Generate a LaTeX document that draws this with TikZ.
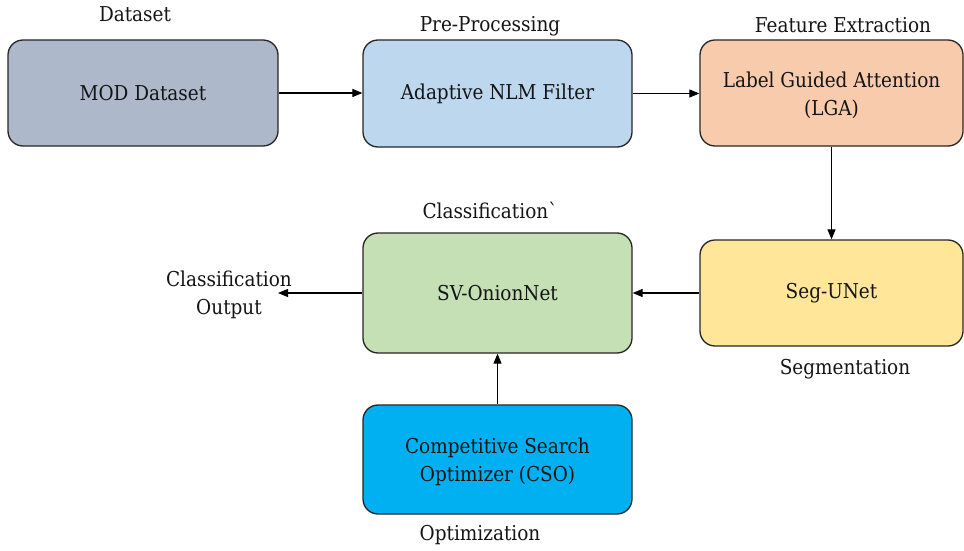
\documentclass[tikz,border=0pt]{standalone}
\usepackage{fontspec}
\setmainfont{DejaVu Serif Condensed}
\usetikzlibrary{arrows.meta}
\definecolor{cDataset}{HTML}{ADB9CA}
\definecolor{cPre}{HTML}{BDD7EE}
\definecolor{cFeat}{HTML}{F8CBAD}
\definecolor{cSeg}{HTML}{FFE699}
\definecolor{cClass}{HTML}{C5E0B4}
\definecolor{cOpt}{HTML}{00B0F0}
\definecolor{cEdge}{HTML}{262626}
\definecolor{cText}{HTML}{141414}
\newcommand{\lowstrut}{\rule{0pt}{20pt}}
\tikzset{
  block/.style={draw=cEdge, line width=1.3pt, rounded corners=15pt, inner sep=0pt,
    align=center, text=cText, font=\fontsize{20.5}{28}\selectfont},
  caption/.style={inner sep=0pt, align=center, text=cText, font=\fontsize{20.5}{28}\selectfont},
  flow/.style={draw=black, line width=1.1pt, -{Triangle[length=10pt,width=8pt]}}
}
\begin{document}
\begin{tikzpicture}[x=1pt, y=-1pt]
\useasboundingbox (0,0) rectangle (964,551);

% processing blocks
\node[block, fill=cDataset, minimum width=270pt, minimum height=106pt] (mod) at (143,93) {MOD Dataset};
\node[block, fill=cPre, minimum width=269pt, minimum height=107pt] (nlm) at (497.5,93.5) {Adaptive NLM Filter};
\node[block, fill=cFeat, minimum width=263pt, minimum height=106pt] (lga) at (831.5,93) {\lowstrut Label Guided Attention\\(LGA)};
\node[block, fill=cSeg, minimum width=263pt, minimum height=106pt] (seg) at (831.5,293) {Seg-UNet};
\node[block, fill=cClass, minimum width=269pt, minimum height=120pt] (sv) at (497.5,293) {SV-OnionNet};
\node[block, fill=cOpt, minimum width=269pt, minimum height=109pt] (cso) at (497.5,459.5) {\lowstrut Competitive Search\\Optimizer (CSO)};

% stage captions
\node[caption] (capData) at (135,14) {Dataset};
\node[caption] (capPre) at (490,26) {Pre-Processing};
\node[caption] (capFeat) at (843,25) {Feature Extraction};
\node[caption] (capClass) at (490,210) {Classification\textasciigrave};
\node[caption] (capSeg) at (845,369) {Segmentation};
\node[caption] (capOpt) at (480,535) {Optimization};
\node[caption] (outTxt) at (229,295) {Classification\\Output};

% connectors
\coordinate (outTip) at (278,293);
\draw[flow] (mod.east) -- (nlm.west |- mod.east);
\draw[flow] (nlm.east) -- (lga.west |- nlm.east);
\draw[flow] (lga.south) -- (seg.north);
\draw[flow] (seg.west) -- (sv.east);
\draw[flow] (sv.west) -- (outTip |- sv.west);
\draw[flow] (cso.north) -- (sv.south);
\end{tikzpicture}
\end{document}
